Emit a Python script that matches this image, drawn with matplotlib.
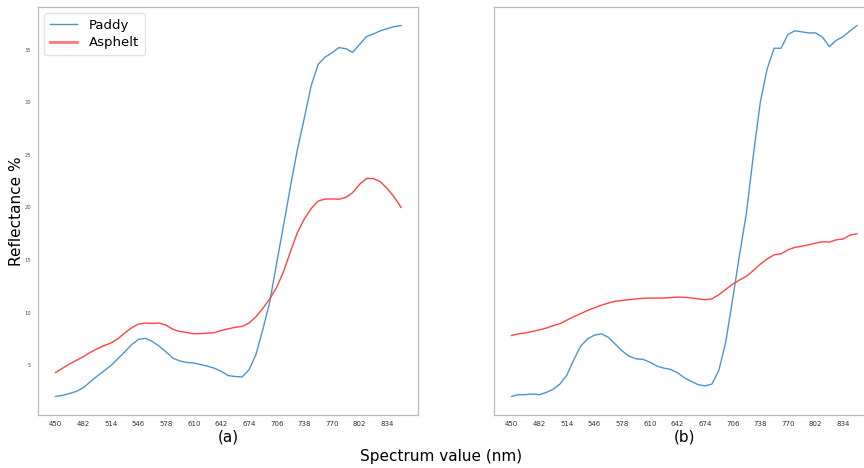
import matplotlib
matplotlib.use("Agg")
import matplotlib.pyplot as plt
from matplotlib.lines import Line2D

wavelength = list(range(450, 851, 8))
tick_labels = list(range(450, 835, 32))

paddy_a = [2.02, 2.12, 2.3, 2.5, 2.85, 3.4, 3.95, 4.45, 4.95, 5.6, 6.25, 6.95, 7.45, 7.55, 7.25, 6.8,
           6.25, 5.65, 5.4, 5.25, 5.2, 5.05, 4.9, 4.7, 4.4, 4.0, 3.92, 3.87, 4.55, 6.0, 8.4, 11.0,
           14.7, 18.3, 22.0, 25.5, 28.5, 31.6, 33.6, 34.3, 34.7, 35.2, 35.1, 34.75, 35.5, 36.25,
           36.5, 36.8, 37.0, 37.2, 37.3]
asphelt_a = [4.3, 4.7, 5.1, 5.45, 5.8, 6.2, 6.55, 6.85, 7.1, 7.5, 8.05, 8.55, 8.9, 9.0, 8.97, 9.0,
             8.8, 8.4, 8.2, 8.1, 7.98, 8.0, 8.05, 8.08, 8.3, 8.45, 8.6, 8.68, 9.0, 9.6, 10.4, 11.3,
             12.4, 13.9, 15.8, 17.6, 18.9, 19.9, 20.6, 20.8, 20.8, 20.78, 20.95, 21.4, 22.2, 22.75,
             22.75, 22.45, 21.8, 21.0, 20.0]
paddy_b = [2.02, 2.19, 2.19, 2.25, 2.19, 2.4, 2.7, 3.2, 4.05, 5.5, 6.8, 7.5, 7.85, 7.98, 7.65, 7.0,
           6.35, 5.85, 5.6, 5.55, 5.29, 4.92, 4.72, 4.6, 4.28, 3.8, 3.45, 3.15, 3.02, 3.2, 4.5, 7.2,
           11.3, 15.5, 19.5, 25.0, 30.0, 33.2, 35.14, 35.14, 36.45, 36.8, 36.7, 36.6, 36.6, 36.2,
           35.3, 35.9, 36.25, 36.8, 37.3]
asphelt_b = [7.82, 7.98, 8.05, 8.2, 8.35, 8.52, 8.75, 8.94, 9.28, 9.6, 9.9, 10.2, 10.45, 10.7, 10.9,
             11.07, 11.15, 11.22, 11.3, 11.35, 11.38, 11.38, 11.38, 11.43, 11.47, 11.45, 11.4, 11.3,
             11.22, 11.3, 11.7, 12.2, 12.7, 13.1, 13.45, 14.0, 14.6, 15.1, 15.49, 15.59, 15.97, 16.2,
             16.3, 16.45, 16.6, 16.73, 16.7, 16.92, 17.0, 17.37, 17.49]

series_names = ["Paddy", "Asphelt"]
panel_labels = ["(a)", "(b)"]

blue = "#4f94cd"
red = "#ff4444"
spine_c = "#b8b8b8"

fig = plt.figure(figsize=(8.64, 4.68), dpi=100)
bottom = 1 - 415 / 468
height = (415 - 7) / 468
w = 380 / 864
ax1 = fig.add_axes([38.3 / 864, bottom, w, height])
ax2 = fig.add_axes([494.3 / 864, bottom, w, height], sharey=ax1)

for ax, p, a, lab in [(ax1, paddy_a, asphelt_a, panel_labels[0]),
                      (ax2, paddy_b, asphelt_b, panel_labels[1])]:
    ax.plot(wavelength, p, color=blue, lw=1.0, label=series_names[0])
    ax.plot(wavelength, a, color=red, lw=1.0, label=series_names[1])
    ax.set_xticks(tick_labels)
    ax.set_xticklabels([str(t) for t in tick_labels], fontsize=5.0, color="#333333")
    ax.tick_params(axis="x", length=0, pad=4)
    ax.tick_params(axis="y", length=0, pad=5, labelsize=3.8, labelcolor="#555555")
    for s in ax.spines.values():
        s.set_color(spine_c)
        s.set_linewidth(0.9)
    ax.set_xlabel(lab, fontsize=11, labelpad=2)

ax2.tick_params(axis="y", labelleft=False)
ax1.set_yticks([5, 10, 15, 20, 25, 30, 35])

handles = [Line2D([], [], color=blue, lw=1.0),
           Line2D([], [], color="#ff7777", lw=2.0)]
leg = ax1.legend(handles, series_names, loc="upper left", fontsize=9.5, frameon=True,
                 handlelength=2.0, borderaxespad=0.45, labelspacing=0.35, handletextpad=0.9,
                 borderpad=0.45)
leg.get_frame().set_edgecolor("#dddddd")

fig.text(17 / 864, 1 - 211 / 468, "Reflectance %", rotation=90, fontsize=11,
         ha="center", va="center")
fig.text(441 / 864, 1 - 456 / 468, "Spectrum value (nm)", fontsize=11,
         ha="center", va="center")

fig.savefig("out.png", dpi=100)
